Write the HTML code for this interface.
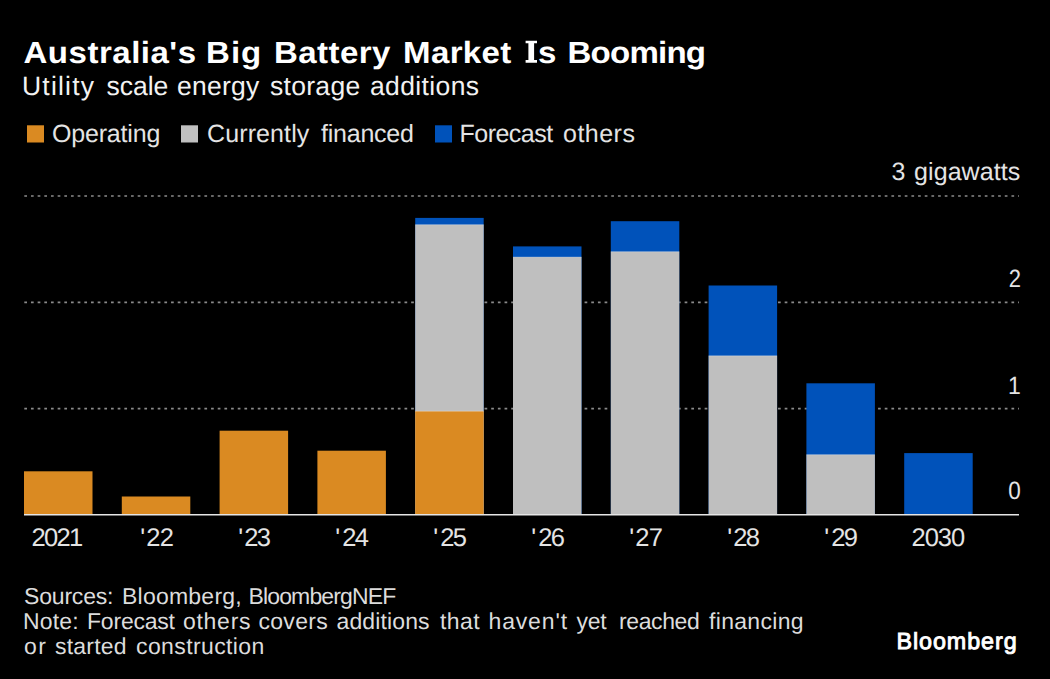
<!DOCTYPE html>
<html><head><meta charset="utf-8">
<style>
html,body{margin:0;padding:0;background:#000;}
body{width:1050px;height:679px;overflow:hidden;}
svg{display:block;}
text{font-family:"Liberation Sans",sans-serif;text-rendering:geometricPrecision;}
</style></head>
<body>
<svg width="1050" height="679" viewBox="0 0 1050 679">
<rect x="0" y="0" width="1050" height="679" fill="#000"/>
<rect x="27" y="125.3" width="17" height="17.2" fill="#DA8A22"/>
<rect x="181" y="125.3" width="17" height="17.2" fill="#C0C0C0"/>
<rect x="435" y="125.3" width="17" height="17.2" fill="#0052BA"/>
<g stroke="#8a8a8a" stroke-width="1.7" stroke-dasharray="2.7 3.97">
<line x1="24.3" y1="196" x2="1019" y2="196"/>
<line x1="24.3" y1="302.3" x2="1019" y2="302.3"/>
<line x1="24.3" y1="408.6" x2="1019" y2="408.6"/>
</g>
<g font-size="25" fill="#e4e4e4" text-anchor="end">
<text transform="translate(1020.9,287.4) scale(0.88,1)">2</text>
<text transform="translate(1020.9,394.2) scale(0.92,1)">1</text>
<text transform="translate(1020.7,499) scale(0.9,1)">0</text>
</g>
<g>
<rect x="24.0" y="471.3" width="68.5" height="43.2" fill="#DA8A22"/>
<rect x="121.8" y="496.5" width="68.5" height="18.0" fill="#DA8A22"/>
<rect x="219.6" y="430.7" width="68.5" height="83.8" fill="#DA8A22"/>
<rect x="317.4" y="450.7" width="68.5" height="63.8" fill="#DA8A22"/>
<rect x="415.2" y="217.9" width="68.5" height="296.6" fill="#0052BA"/>
<rect x="415.2" y="224.7" width="68.5" height="289.8" fill="#BFBFBF"/>
<rect x="415.2" y="411.2" width="68.5" height="103.3" fill="#DA8A22"/>
<rect x="513.0" y="246.4" width="68.5" height="268.1" fill="#0052BA"/>
<rect x="513.0" y="257.1" width="68.5" height="257.4" fill="#BFBFBF"/>
<rect x="610.8" y="221.2" width="68.5" height="293.3" fill="#0052BA"/>
<rect x="610.8" y="251.7" width="68.5" height="262.8" fill="#BFBFBF"/>
<rect x="708.6" y="285.5" width="68.5" height="229.0" fill="#0052BA"/>
<rect x="708.6" y="355.8" width="68.5" height="158.7" fill="#BFBFBF"/>
<rect x="806.4" y="383.3" width="68.5" height="131.2" fill="#0052BA"/>
<rect x="806.4" y="454.7" width="68.5" height="59.8" fill="#BFBFBF"/>
<rect x="904.2" y="453.1" width="68.5" height="61.4" fill="#0052BA"/>
</g>
<g fill="#fff" opacity="0.3"><rect x="415.2" y="224.2" width="68.5" height="1"/><rect x="415.2" y="410.7" width="68.5" height="1"/><rect x="513.0" y="256.6" width="68.5" height="1"/><rect x="610.8" y="251.2" width="68.5" height="1"/><rect x="708.6" y="355.3" width="68.5" height="1"/><rect x="806.4" y="454.2" width="68.5" height="1"/></g>
<line x1="24" y1="514.7" x2="1019" y2="514.7" stroke="#e6e6e6" stroke-width="1.6"/>

<text transform="translate(23.50,62.8) scale(1.08,1)" font-size="30.6" font-weight="bold" fill="#fff" textLength="159.78" lengthAdjust="spacing">Australia's</text>
<text transform="translate(206.00,62.8) scale(1.08,1)" font-size="30.6" font-weight="bold" fill="#fff" textLength="51.23" lengthAdjust="spacing">Big</text>
<text transform="translate(274.00,62.8) scale(1.08,1)" font-size="30.6" font-weight="bold" fill="#fff" textLength="107.86" lengthAdjust="spacing">Battery</text>
<text transform="translate(403.00,62.8) scale(1.08,1)" font-size="30.6" font-weight="bold" fill="#fff" textLength="100.37" lengthAdjust="spacing">Market</text>
<text transform="translate(538.00,62.8) scale(1.08,1)" font-size="30.6" font-weight="bold" fill="#fff" >s</text>
<text transform="translate(567.50,62.8) scale(1.08,1)" font-size="30.6" font-weight="bold" fill="#fff" textLength="128.30" lengthAdjust="spacing">Booming</text>
<text x="22.00" y="94.5" font-size="26.5" fill="#f2f2f2" textLength="71.98" lengthAdjust="spacing">Utility</text>
<text x="106.50" y="94.5" font-size="26.5" fill="#f2f2f2" textLength="61.78" lengthAdjust="spacing">scale</text>
<text x="177.00" y="94.5" font-size="26.5" fill="#f2f2f2" textLength="82.25" lengthAdjust="spacing">energy</text>
<text x="270.00" y="94.5" font-size="26.5" fill="#f2f2f2" textLength="90.20" lengthAdjust="spacing">storage</text>
<text x="370.00" y="94.5" font-size="26.5" fill="#f2f2f2" textLength="109.07" lengthAdjust="spacing">additions</text>
<text x="52.00" y="142" font-size="25" fill="#e4e4e4" textLength="108.38" lengthAdjust="spacing">Operating</text>
<text x="207.00" y="142" font-size="25" fill="#e4e4e4" textLength="102.33" lengthAdjust="spacing">Currently</text>
<text x="321.00" y="142" font-size="25" fill="#e4e4e4" textLength="92.88" lengthAdjust="spacing">financed</text>
<text x="459.50" y="142" font-size="25" fill="#e4e4e4" textLength="93.60" lengthAdjust="spacing">Forecast</text>
<text x="563.00" y="142" font-size="25" fill="#e4e4e4" textLength="71.91" lengthAdjust="spacing">others</text>
<text x="891.50" y="179.5" font-size="25" fill="#e4e4e4" >3</text>
<text x="914.00" y="179.5" font-size="25" fill="#e4e4e4" textLength="106.33" lengthAdjust="spacing">gigawatts</text>
<text x="24.00" y="603.6" font-size="23" fill="#dcdcdc" textLength="89.51" lengthAdjust="spacing">Sources:</text>
<text x="122.00" y="603.6" font-size="23" fill="#dcdcdc" textLength="119.70" lengthAdjust="spacing">Bloomberg,</text>
<text x="248.50" y="603.6" font-size="23" fill="#dcdcdc" textLength="147.74" lengthAdjust="spacing">BloombergNEF</text>
<text x="23.00" y="628.6" font-size="23" fill="#dcdcdc" textLength="55.55" lengthAdjust="spacing">Note:</text>
<text x="87.00" y="628.6" font-size="23" fill="#dcdcdc" textLength="88.00" lengthAdjust="spacing">Forecast</text>
<text x="183.00" y="628.6" font-size="23" fill="#dcdcdc" textLength="67.51" lengthAdjust="spacing">others</text>
<text x="258.50" y="628.6" font-size="23" fill="#dcdcdc" textLength="69.17" lengthAdjust="spacing">covers</text>
<text x="336.50" y="628.6" font-size="23" fill="#dcdcdc" textLength="93.07" lengthAdjust="spacing">additions</text>
<text x="440.00" y="628.6" font-size="23" fill="#dcdcdc" textLength="39.60" lengthAdjust="spacing">that</text>
<text x="488.50" y="628.6" font-size="23" fill="#dcdcdc" textLength="78.53" lengthAdjust="spacing">haven't</text>
<text x="576.50" y="628.6" font-size="23" fill="#dcdcdc" textLength="30.15" lengthAdjust="spacing">yet</text>
<text x="619.00" y="628.6" font-size="23" fill="#dcdcdc" textLength="80.73" lengthAdjust="spacing">reached</text>
<text x="709.00" y="628.6" font-size="23" fill="#dcdcdc" textLength="94.62" lengthAdjust="spacing">financing</text>
<text x="24.00" y="654.2" font-size="23" fill="#dcdcdc" textLength="21.93" lengthAdjust="spacing">or</text>
<text x="55.00" y="654.2" font-size="23" fill="#dcdcdc" textLength="71.66" lengthAdjust="spacing">started</text>
<text x="136.00" y="654.2" font-size="23" fill="#dcdcdc" textLength="128.29" lengthAdjust="spacing">construction</text>
<text x="31.50" y="546" font-size="25.5" fill="#e4e4e4" textLength="51.60" lengthAdjust="spacing">2021</text>
<text x="140.25" y="546" font-size="25.5" fill="#e4e4e4" >'</text>
<text x="146.25" y="546" font-size="25.5" fill="#e4e4e4" textLength="27.80" lengthAdjust="spacing">22</text>
<text x="238.25" y="546" font-size="25.5" fill="#e4e4e4" >'</text>
<text x="244.25" y="546" font-size="25.5" fill="#e4e4e4" textLength="26.80" lengthAdjust="spacing">23</text>
<text x="335.25" y="546" font-size="25.5" fill="#e4e4e4" >'</text>
<text x="342.25" y="546" font-size="25.5" fill="#e4e4e4" textLength="26.80" lengthAdjust="spacing">24</text>
<text x="433.25" y="546" font-size="25.5" fill="#e4e4e4" >'</text>
<text x="440.25" y="546" font-size="25.5" fill="#e4e4e4" textLength="26.80" lengthAdjust="spacing">25</text>
<text x="531.25" y="546" font-size="25.5" fill="#e4e4e4" >'</text>
<text x="538.25" y="546" font-size="25.5" fill="#e4e4e4" textLength="26.80" lengthAdjust="spacing">26</text>
<text x="629.25" y="546" font-size="25.5" fill="#e4e4e4" >'</text>
<text x="635.25" y="546" font-size="25.5" fill="#e4e4e4" textLength="27.80" lengthAdjust="spacing">27</text>
<text x="727.25" y="546" font-size="25.5" fill="#e4e4e4" >'</text>
<text x="733.25" y="546" font-size="25.5" fill="#e4e4e4" textLength="26.80" lengthAdjust="spacing">28</text>
<text x="824.25" y="546" font-size="25.5" fill="#e4e4e4" >'</text>
<text x="831.25" y="546" font-size="25.5" fill="#e4e4e4" textLength="26.80" lengthAdjust="spacing">29</text>
<text x="911.50" y="546" font-size="25.5" fill="#e4e4e4" textLength="53.60" lengthAdjust="spacing">2030</text>
<text x="896.50" y="649.3" font-size="23.3" fill="#fff" stroke="#fff" stroke-width="0.9" textLength="120.10" lengthAdjust="spacing">Bloomberg</text>
<path d="M525.6 40.7H537V43.3H534.1V60.1H537V62.7H525.6V60.1H528.4V43.3H525.6Z" fill="#fff"/>
</svg>
</body></html>
